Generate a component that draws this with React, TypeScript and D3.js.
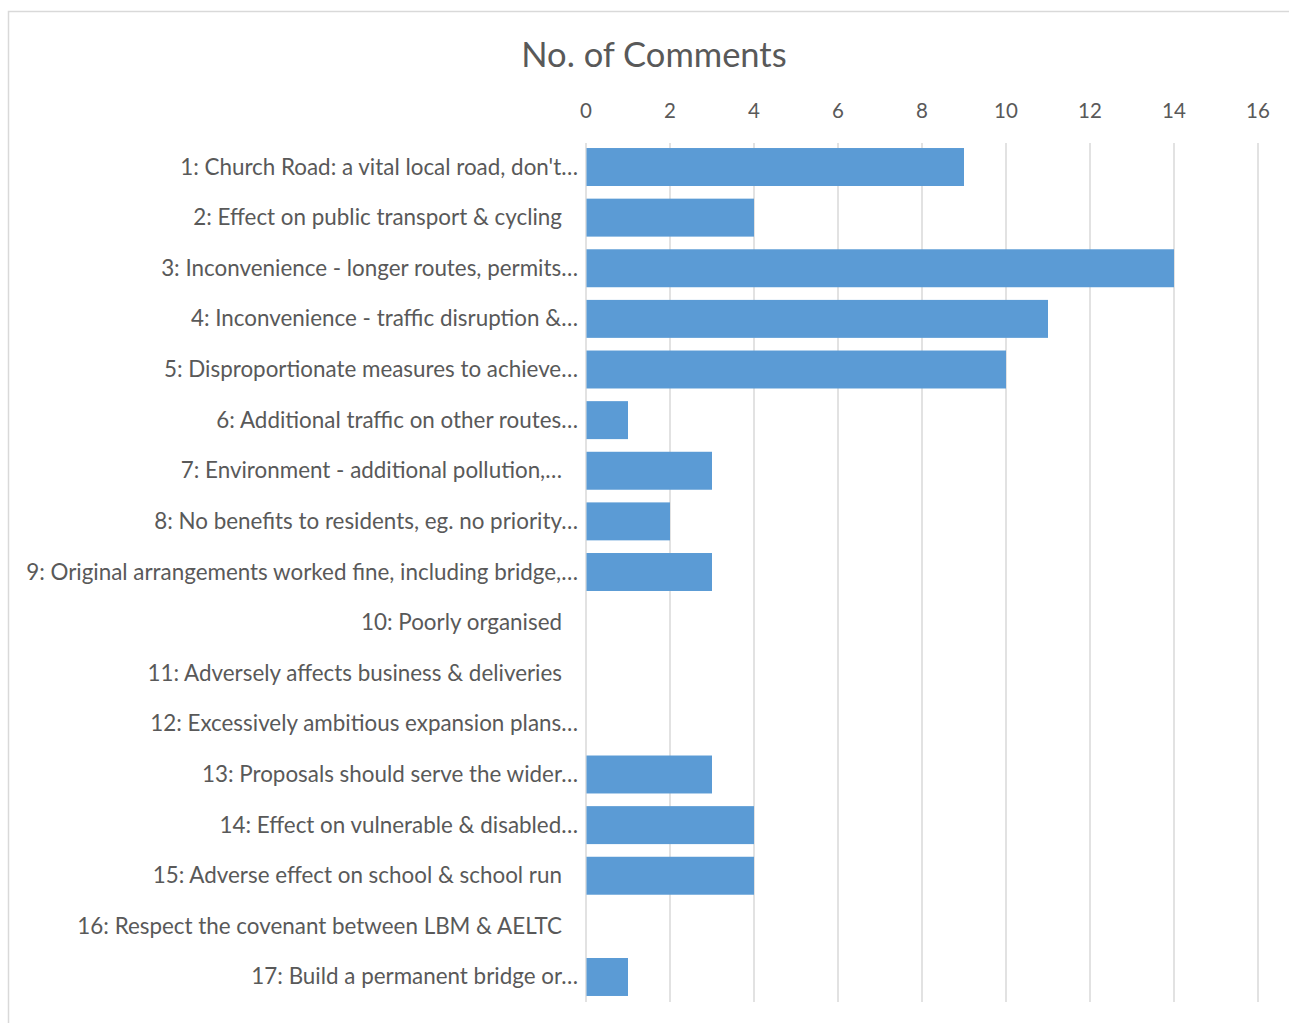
import React from "react";
import * as d3 from "d3";

const categories: string[] = [
  "1: Church Road: a vital local road, don't…",
  "2: Effect on public transport & cycling",
  "3: Inconvenience - longer routes, permits…",
  "4: Inconvenience - traffic disruption &…",
  "5: Disproportionate measures to achieve…",
  "6: Additional traffic on other routes…",
  "7: Environment - additional pollution,…",
  "8: No benefits to residents, eg. no priority…",
  "9: Original arrangements worked fine, including bridge,…",
  "10: Poorly organised",
  "11: Adversely affects business & deliveries",
  "12: Excessively ambitious expansion plans…",
  "13: Proposals should serve the wider…",
  "14: Effect on vulnerable & disabled…",
  "15: Adverse effect on school & school run",
  "16: Respect the covenant between LBM & AELTC",
  "17: Build a permanent bridge or…",
];
const values: number[] = [9, 4, 14, 11, 10, 1, 3, 2, 3, 0, 0, 0, 3, 4, 4, 0, 1];
const ticks: number[] = [0, 2, 4, 6, 8, 10, 12, 14, 16];
const title = "No. of Comments";
// labels Excel draws with the wider right gap
const shortEnd: string[] = [categories[6]];

const W = 1289;
const H = 1023;
const FONT = "Lato, Carlito, Calibri, sans-serif";
const TEXT = "#595959";
const GRID = "#d9d9d9";
const BAR = "#5b9bd5";

export default function App() {
  const x = d3.scaleLinear().domain([0, 16]).range([586, 1258]);
  const y = d3
    .scaleBand<string>()
    .domain(categories)
    .range([141.7, 1002.3])
    .paddingInner(0.25)
    .paddingOuter(0.125);

  const labelEnd = (c: string) => (c.endsWith("…") && !shortEnd.includes(c) ? 578 : 562);

  return (
    <div style={{ position: "absolute", left: 0, top: 0 }}>
      <svg width={W} height={H} style={{ display: "block" }}>
        <rect x={0} y={0} width={W} height={H} fill="#fff" />
        <rect x={8.5} y={11.5} width={W + 20} height={H + 20} fill="#fff" stroke={GRID} strokeWidth={1.5} />
        <text x={654} y={67} textAnchor="middle" fontFamily={FONT} fontSize={34.5} fill={TEXT}>
          {title}
        </text>
        {ticks.map((t) => (
          <g key={t}>
            <line x1={x(t)} x2={x(t)} y1={143} y2={1002} stroke={GRID} strokeWidth={1.5} />
            <text x={x(t)} y={118} textAnchor="middle" fontFamily={FONT} fontSize={20.5} fill={TEXT}>
              {t}
            </text>
          </g>
        ))}
        {categories.map((c, i) => (
          <g key={c}>
            {values[i] > 0 && (
              <rect
                x={x(0) + 0.5}
                y={y(c)}
                width={x(values[i]) - x(0) - 0.5}
                height={y.bandwidth()}
                fill={BAR}
              />
            )}
            <text
              x={labelEnd(c)}
              y={(y(c) as number) + y.bandwidth() / 2 + 7.5}
              textAnchor="end"
              fontFamily={FONT}
              fontSize={22.4}
              fill={TEXT}
            >
              {c}
            </text>
          </g>
        ))}
      </svg>
    </div>
  );
}
